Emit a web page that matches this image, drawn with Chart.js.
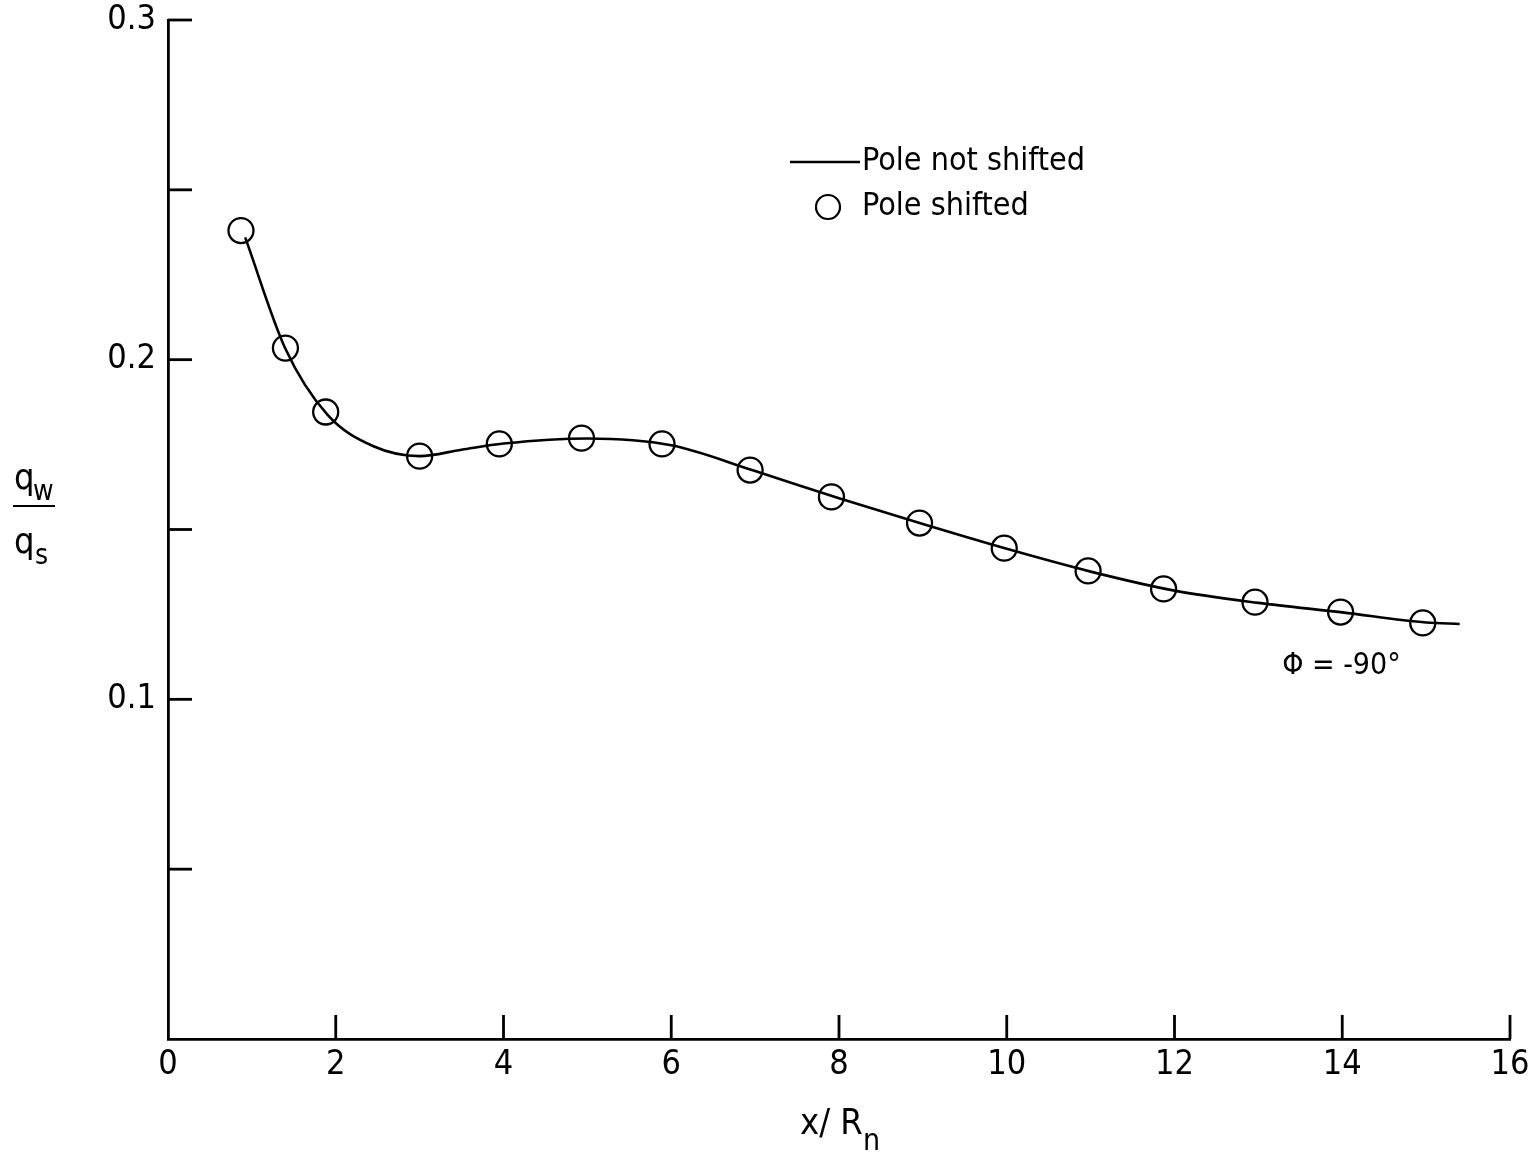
<!DOCTYPE html>
<html>
<head>
<meta charset="utf-8">
<script src="https://cdn.jsdelivr.net/npm/chart.js@4.4.1/dist/chart.umd.min.js"></script>
<style>
  html, body { margin: 0; padding: 0; background: #ffffff; }
  #wrap { width: 1538px; height: 1155px; position: relative; }
</style>
</head>
<body>
<div id="wrap"><canvas id="c" width="1538" height="1155"></canvas></div>
<script>
// ---- Data ----
const xTicks = [0, 2, 4, 6, 8, 10, 12, 14, 16];
const yTicks = [0.05, 0.1, 0.15, 0.2, 0.25, 0.3];
const yTickLabels = ['', '0.1', '', '0.2', '', '0.3'];

// "Pole not shifted" (solid curve)
const curveX = [0.92, 1.4, 1.9, 2.45, 3.0, 3.5, 4.0, 5.0, 6.0, 7.0, 8.0, 9.0, 10.0, 11.0, 12.0, 13.0, 14.0, 15.0, 15.4];
const curveY = [0.236, 0.2032, 0.1838, 0.1745, 0.1716, 0.1735, 0.1753, 0.1768, 0.1748, 0.1672, 0.1592, 0.1516, 0.1443, 0.1376, 0.1320, 0.1284, 0.1256, 0.1226, 0.1222];

// "Pole shifted" (open circles)
const circX = [0.87, 1.40, 1.88, 3.0, 3.95, 4.93, 5.89, 6.94, 7.91, 8.96, 9.97, 10.97, 11.87, 12.96, 13.98, 14.96];
const circY = [0.238, 0.2034, 0.1846, 0.1716, 0.1752, 0.1769, 0.1752, 0.1675, 0.1596, 0.1519, 0.1445, 0.1378, 0.1325, 0.1286, 0.1257, 0.1225];

const seriesNames = ['Pole not shifted', 'Pole shifted'];
const annotationText = '\u03A6 = -90\u00B0';

const FONT = '"DejaVu Sans Condensed", "Liberation Sans Narrow", "DejaVu Sans", sans-serif';

const toPts = (xs, ys) => xs.map((x, i) => ({ x: x, y: ys[i] }));

const overlay = {
  id: 'overlay',
  afterDraw(chart) {
    const ctx = chart.ctx;
    const xs = chart.scales.x, ys = chart.scales.y;
    const area = chart.chartArea;
    ctx.save();
    ctx.strokeStyle = '#000';
    ctx.fillStyle = '#000';
    ctx.lineWidth = 2.8;
    ctx.lineCap = 'butt';
    // inward tick marks
    xTicks.forEach(v => {
      if (v === 0) return;
      const px = xs.getPixelForValue(v);
      ctx.beginPath();
      ctx.moveTo(px, area.bottom);
      ctx.lineTo(px, area.bottom - 24);
      ctx.stroke();
    });
    yTicks.forEach(v => {
      const py = ys.getPixelForValue(v);
      ctx.beginPath();
      ctx.moveTo(area.left, py);
      ctx.lineTo(area.left + 24, py);
      ctx.stroke();
    });

    // legend
    const lx = 790, ly1 = 162, ly2 = 207;
    ctx.lineWidth = 2.5;
    ctx.beginPath();
    ctx.moveTo(lx, ly1);
    ctx.lineTo(lx + 70, ly1);
    ctx.stroke();
    ctx.lineWidth = 2.2;
    ctx.beginPath();
    ctx.arc(lx + 38, ly2, 12, 0, Math.PI * 2);
    ctx.stroke();
    ctx.font = '32px ' + FONT;
    ctx.textBaseline = 'middle';
    ctx.textAlign = 'left';
    ctx.fillText(seriesNames[0], lx + 72, ly1);
    ctx.fillText(seriesNames[1], lx + 72, ly2);

    // annotation
    ctx.font = '30px ' + FONT;
    ctx.textAlign = 'center';
    ctx.fillText(annotationText, xs.getPixelForValue(13.99), ys.getPixelForValue(0.1098));

    // y-axis title: q_w / q_s
    ctx.textAlign = 'left';
    ctx.textBaseline = 'alphabetic';
    ctx.font = '36px ' + FONT;
    ctx.fillText('q', 14, 489);
    ctx.fillText('q', 14, 553);
    ctx.font = '28px ' + FONT;
    ctx.fillText('w', 33, 500);
    ctx.fillText('s', 35, 564);
    ctx.lineWidth = 2;
    ctx.beginPath();
    ctx.moveTo(13, 506);
    ctx.lineTo(55, 506);
    ctx.stroke();

    // x-axis title: x/ R_n
    ctx.font = '36px ' + FONT;
    ctx.fillText('x/ R', 800, 1134);
    ctx.font = '30px ' + FONT;
    ctx.fillText('n', 863, 1150);
    ctx.restore();
  }
};

new Chart(document.getElementById('c'), {
  type: 'scatter',
  data: {
    datasets: [
      {
        label: seriesNames[0],
        data: toPts(curveX, curveY),
        showLine: true,
        borderColor: '#000',
        borderWidth: 2.6,
        pointRadius: 0,
        cubicInterpolationMode: 'monotone',
        fill: false
      },
      {
        label: seriesNames[1],
        data: toPts(circX, circY),
        showLine: false,
        pointStyle: 'circle',
        pointRadius: 12.5,
        pointBorderWidth: 2.3,
        pointBorderColor: '#000',
        pointBackgroundColor: 'rgba(0,0,0,0)'
      }
    ]
  },
  options: {
    responsive: false,
    animation: false,
    devicePixelRatio: 1,
    layout: { padding: { left: 0, right: 28, top: 20, bottom: 0 } },
    plugins: { legend: { display: false }, tooltip: { enabled: false } },
    scales: {
      x: {
        type: 'linear',
        min: 0, max: 16,
        afterBuildTicks: s => { s.ticks = xTicks.map(v => ({ value: v })); },
        afterFit: s => { s.height = 116; s.paddingLeft = 0; s.paddingRight = 0; },
        grid: { display: true, drawOnChartArea: false, drawTicks: false },
        border: { display: true, color: '#000', width: 2.8 },
        ticks: {
          color: '#000', padding: 6,
          font: { family: FONT, size: 34 },
          maxRotation: 0, autoSkip: false,
          callback: v => String(v)
        }
      },
      y: {
        type: 'linear',
        min: 0, max: 0.3,
        afterBuildTicks: s => { s.ticks = yTicks.map(v => ({ value: v })); },
        afterFit: s => { s.width = 168; s.paddingTop = 0; s.paddingBottom = 0; },
        grid: { display: true, drawOnChartArea: false, drawTicks: false },
        border: { display: true, color: '#000', width: 2.8 },
        ticks: {
          color: '#000', padding: 12,
          font: { family: FONT, size: 34 },
          autoSkip: false,
          callback: (v, i) => yTickLabels[i]
        }
      }
    }
  },
  plugins: [overlay]
});
</script>
</body>
</html>
